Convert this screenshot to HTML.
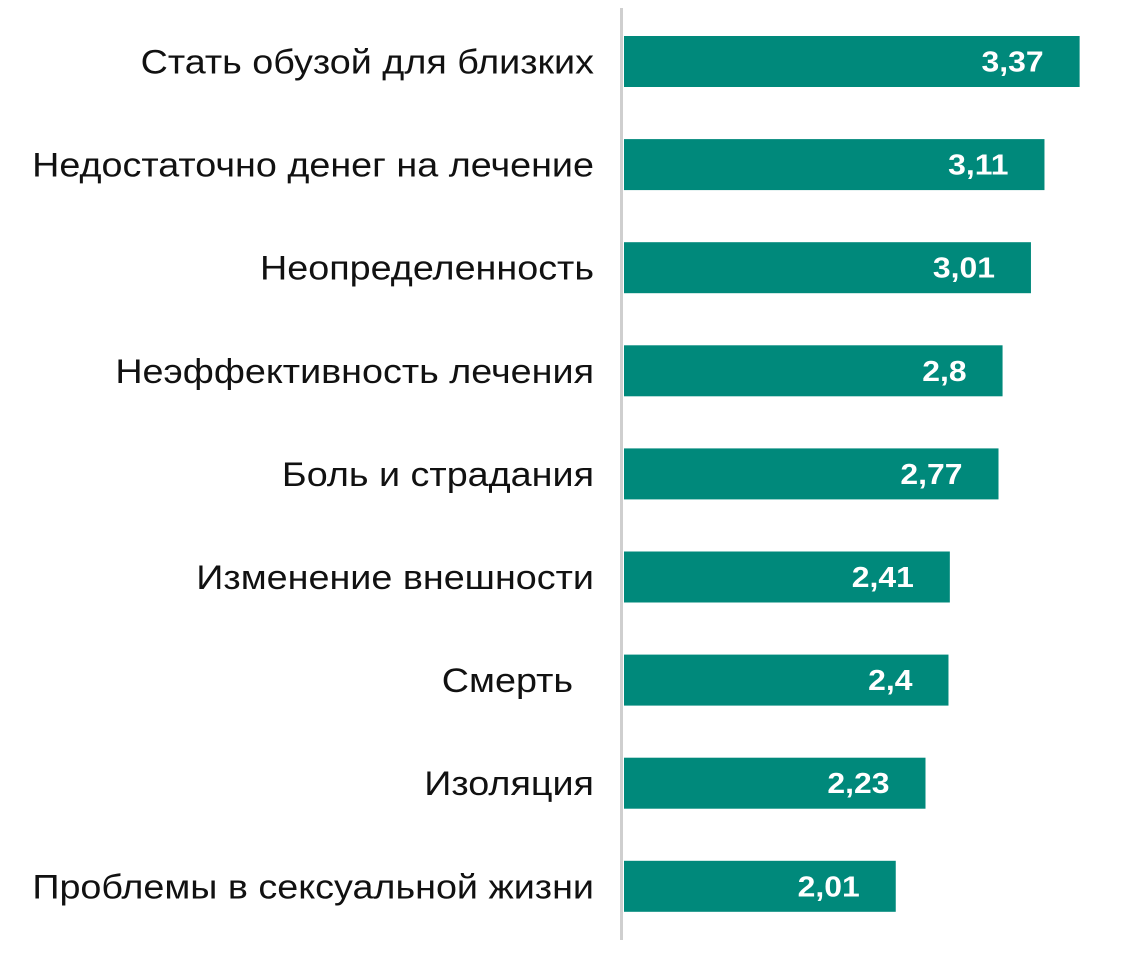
<!DOCTYPE html>
<html><head><meta charset="utf-8">
<style>
html,body{margin:0;padding:0;background:#fff;}
body{width:1126px;height:954px;overflow:hidden;}
svg text{font-family:"Liberation Sans","DejaVu Sans",sans-serif;}
</style></head>
<body>
<svg id="chart" width="1126" height="954" viewBox="0 0 1126 954" xmlns="http://www.w3.org/2000/svg">
<line x1="621.5" y1="8" x2="621.5" y2="940" stroke="#cfcfcf" stroke-width="3"/>
<g id="bars"></g>
</svg>
<script>
const categories = ["Стать обузой для близких","Недостаточно денег на лечение","Неопределенность","Неэффективность лечения","Боль и страдания","Изменение внешности","Смерть  ","Изоляция","Проблемы в сексуальной жизни"];
const values = [3.37,3.11,3.01,2.8,2.77,2.41,2.4,2.23,2.01];
const valueLabels = ["3,37","3,11","3,01","2,8","2,77","2,41","2,4","2,23","2,01"];

const x0 = 624, pxPerUnit = 135.2;
const xScale = v => x0 + v * pxPerUnit;
const rowTop = 36, rowStep = 103.1, barH = 51;
const yScale = i => rowTop + i * rowStep;
const NS = "http://www.w3.org/2000/svg";
const g = document.getElementById("bars");

categories.forEach((c, i) => {
  const y = yScale(i);
  const xe = xScale(values[i]);
  const r = document.createElementNS(NS, "rect");
  
  
  r.setAttribute("x", x0); r.setAttribute("y", y);
  r.setAttribute("width", xe - x0); r.setAttribute("height", barH);
  r.setAttribute("fill", "#00897b");
  g.appendChild(r);

  const vx = xe - 36;
  const v = document.createElementNS(NS, "text");
  
  
  v.setAttribute("x", vx); v.setAttribute("y", y + barH/2 + 10);
  v.setAttribute("text-anchor", "end");
  v.setAttribute("fill", "#fff"); v.setAttribute("font-size", "29");
  v.setAttribute("font-weight", "bold");
  v.setAttribute("transform", "translate(" + vx + ",0) scale(1.1,1) translate(" + (-vx) + ",0)");
  v.textContent = valueLabels[i];
  g.appendChild(v);

  const t = document.createElementNS(NS, "text");
  
  
  t.setAttribute("x", 594); t.setAttribute("y", y + barH/2 + 12);
  t.setAttribute("text-anchor", "end");
  t.setAttribute("fill", "#111"); t.setAttribute("font-size", "34");
  t.setAttribute("transform", "translate(594,0) scale(1.11,1) translate(-594,0)");
  t.setAttribute("xml:space", "preserve");
  t.style.whiteSpace = "pre";
  t.textContent = c;
  g.appendChild(t);
});
</script>
</body></html>
